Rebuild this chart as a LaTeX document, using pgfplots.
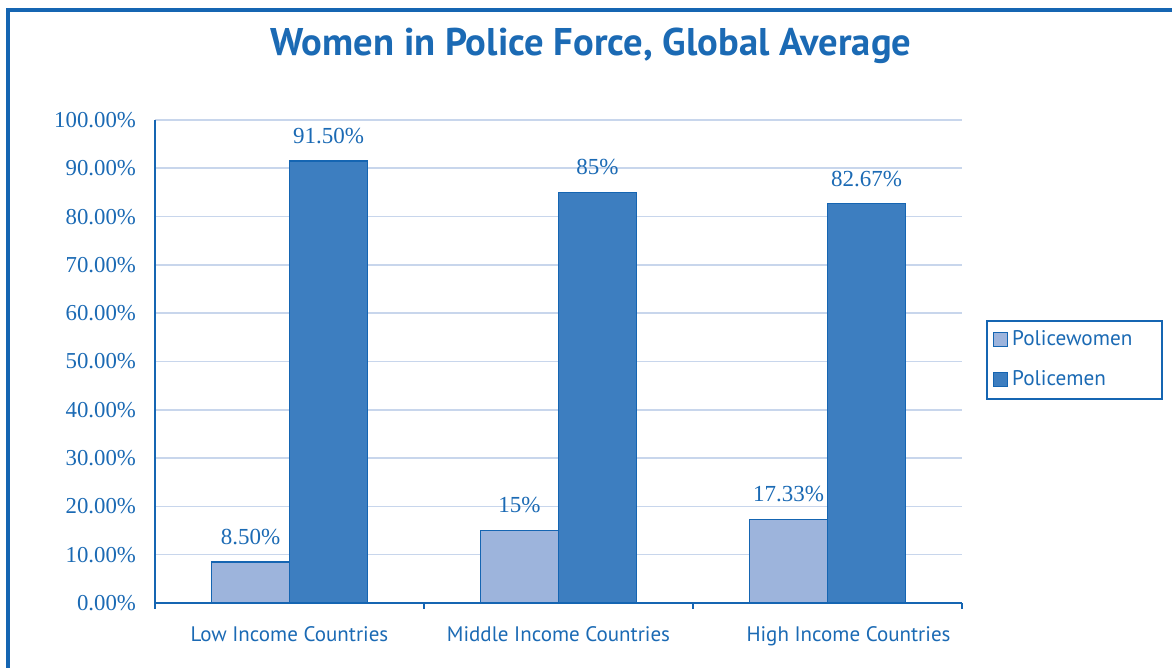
\documentclass[border=0pt]{standalone}
\usepackage{fontspec}
\setmainfont{Liberation Serif}
\newfontfamily\labelfont{PT Sans}
\usepackage{pgfplots}
\pgfplotsset{compat=1.18}

\definecolor{txtblue}{RGB}{27,106,180}
\definecolor{edgeblue}{RGB}{21,101,178}
\definecolor{lightbar}{RGB}{157,180,220}
\definecolor{darkbar}{RGB}{61,126,192}
\definecolor{gridblue}{RGB}{200,214,236}

\begin{document}
\begin{tikzpicture}
\path[use as bounding box] (0,0) rectangle (586pt,334pt);
\draw[edgeblue, line width=1.6pt] (4pt,0) -- (4pt,329pt) -- (586pt,329pt);
\node[text=txtblue, font=\labelfont\bfseries\fontsize{19.3}{22}\selectfont] at (295.5pt,311pt) {Women in Police Force, Global Average};

\begin{axis}[
    at={(77.5pt,32.5pt)}, anchor=south west,
    scale only axis,
    width=403.5pt, height=241.5pt,
    ybar=0pt, bar width=39pt,
    xmin=-0.5, xmax=2.5,
    ymin=0, ymax=100,
    xtick={0,1,2},
    xticklabels={Low Income Countries, Middle Income Countries, \hspace*{21pt}High Income Countries},
    minor xtick={-0.5,0.5,1.5,2.5},
    ytick={0,10,...,100},
    yticklabel={\pgfmathprintnumber[fixed,fixed zerofill,precision=2]{\tick}\%},
    /pgf/number format/assume math mode=true,
    axis lines*=left,
    axis line style={edgeblue, line width=0.9pt, -},
    major tick length=0pt,
    minor tick length=3pt,
    tick align=outside,
    minor tick style={edgeblue, line width=0.9pt},
    ymajorgrids,
    major grid style={gridblue, line width=0.8pt},
    yticklabel style={text=txtblue, font=\fontsize{11.4}{13}\selectfont, xshift=-6pt},
    xticklabel style={text=txtblue, font=\labelfont\fontsize{10.5}{12}\selectfont, yshift=-8pt},
    point meta=explicit symbolic,
    nodes near coords,
    every node near coord/.append style={text=txtblue, font=\fontsize{11.5}{13}\selectfont, yshift=5pt},
    legend cell align=left,
    legend style={at={(1.03,0.586)}, anchor=north west, draw=edgeblue, line width=0.8pt,
        font=\labelfont\fontsize{10.6}{12}\selectfont, text=txtblue,
        row sep=7pt, inner ysep=3pt, inner xsep=3pt,
        nodes={text width=70pt, align=left}},
    legend image code/.code={\draw[#1, line width=0.6pt] (0pt,-3.5pt) rectangle (7pt,3.5pt);},
]
\addplot[fill=lightbar, draw=edgeblue, line width=0.6pt] coordinates {
    (0,8.5) [8.50\%]
    (1,15) [15\%]
    (2,17.33) [17.33\%]
};
\addplot[fill=darkbar, draw=edgeblue, line width=0.6pt] coordinates {
    (0,91.5) [91.50\%]
    (1,85) [85\%]
    (2,82.67) [82.67\%]
};
\legend{Policewomen, Policemen}
\end{axis}
\end{tikzpicture}
\end{document}
